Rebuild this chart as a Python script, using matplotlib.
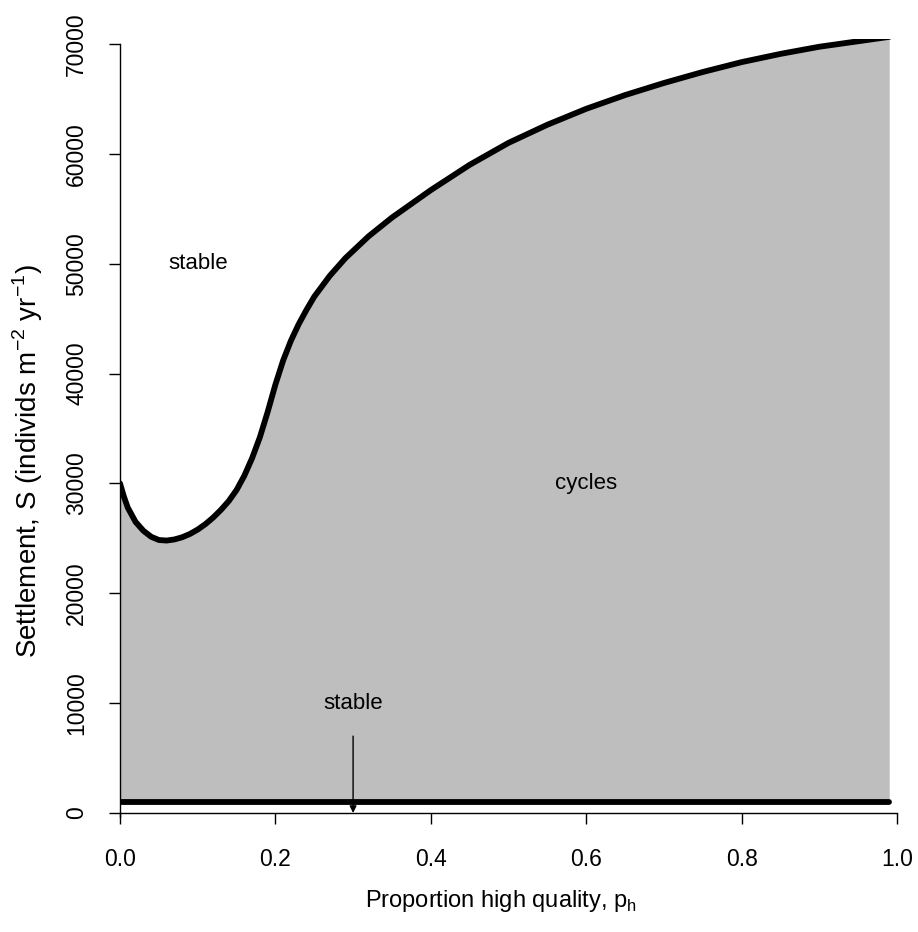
import matplotlib
matplotlib.use("Agg")
import matplotlib.pyplot as plt

plt.rcParams['font.family'] = ['Liberation Sans', 'DejaVu Sans']

# upper boundary of the cycling region
ph = [0, 0.005, 0.01, 0.02, 0.03, 0.04, 0.05, 0.06, 0.07, 0.08, 0.09, 0.10,
      0.11, 0.12, 0.13, 0.14, 0.15, 0.16, 0.17, 0.18, 0.19, 0.20, 0.21,
      0.22, 0.23, 0.24, 0.25, 0.27, 0.29, 0.32, 0.35, 0.38, 0.40, 0.45,
      0.50, 0.55, 0.60, 0.65, 0.70, 0.75, 0.80, 0.85, 0.90, 0.95, 0.99]
s_upper = [30000, 28800, 27800, 26500, 25700, 25150, 24850, 24800, 24900,
           25100, 25400, 25800, 26300, 26900, 27600, 28400, 29400, 30700,
           32300, 34200, 36500, 39000, 41200, 43000, 44500, 45800, 47000,
           48900, 50500, 52500, 54200, 55700, 56700, 59000, 61000, 62650,
           64100, 65350, 66450, 67450, 68350, 69100, 69750, 70250, 70650]
# lower boundary (flat)
s_lower = [1000] * len(ph)

labels = [("stable", 0.10, 50000), ("cycles", 0.60, 30000), ("stable", 0.30, 10000)]

W, H = 918, 932
fig = plt.figure(figsize=(W / 100, H / 100), dpi=100)
# pixel mapping: x 0->120, 1->897 ; y 0->813, 70000->44
ylo, yhi = -500, 70500
ppu = (813 - 44) / 70000
bot_px = 813 + (0 - ylo) * ppu
top_px = 44 - (yhi - 70000) * ppu
ax = fig.add_axes([120 / W, (H - bot_px) / H, 777 / W, (bot_px - top_px) / H])

ax.fill_between(ph, s_lower, s_upper, color='#BEBEBE', linewidth=0)
ax.plot(ph, s_upper, color='black', lw=4.2, solid_capstyle='round')
ax.plot(ph, s_lower, color='black', lw=4.2, solid_capstyle='round')

for txt, x, y in labels:
    ax.text(x, y, txt, ha='center', va='center', fontsize=16)

ax.annotate('', xy=(0.3, 0), xytext=(0.3, 7000),
            arrowprops=dict(arrowstyle='-|>', color='black', lw=1,
                            mutation_scale=10, shrinkA=0, shrinkB=0))

ax.set_xlim(0, 1)
ax.set_ylim(ylo, yhi)
ax.spines['top'].set_visible(False)
ax.spines['right'].set_visible(False)
ax.spines['bottom'].set_position(('data', 0))
ax.spines['left'].set_bounds(-400, 70000)
ax.spines['bottom'].set_bounds(0, 1)
for sp in ('left', 'bottom'):
    ax.spines[sp].set_linewidth(1)

ax.set_xticks([0, 0.2, 0.4, 0.6, 0.8, 1.0])
ax.set_xticklabels(['0.0', '0.2', '0.4', '0.6', '0.8', '1.0'])
ax.set_yticks(range(0, 70001, 10000))
ax.tick_params(axis='both', direction='out', length=8, width=1, labelsize=16.5)
ax.tick_params(axis='x', pad=17)
ax.tick_params(axis='y', pad=15)
for lab in ax.get_yticklabels():
    lab.set_rotation(90)
    lab.set_va('center')

ax.set_xlabel('Proportion high quality, p$_\\mathregular{h}$', fontsize=17)
ax.xaxis.set_label_coords(0.49, (bot_px - 888) / (bot_px - top_px))
ax.set_ylabel('Settlement, S (individs m$^\\mathregular{-2}$ yr$^\\mathregular{-1}$)',
              fontsize=20)
ax.yaxis.set_label_coords(-0.0965, (bot_px - 461) / (bot_px - top_px))

fig.savefig('out.png', dpi=100)
